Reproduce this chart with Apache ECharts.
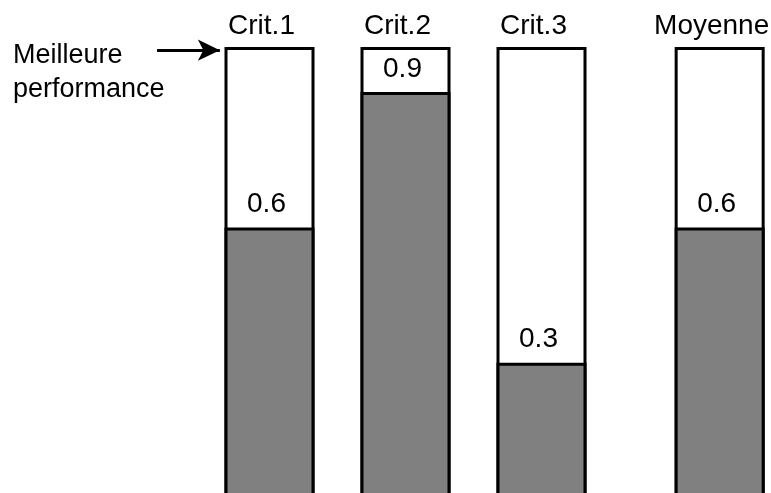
<!DOCTYPE html>
<html>
<head>
<meta charset="utf-8">
<script src="https://cdn.jsdelivr.net/npm/echarts@6/dist/echarts.min.js"></script>
<style>html,body{margin:0;padding:0;background:#fff;overflow:hidden}#c{width:820px;height:505px}</style>
</head>
<body>
<div id="c"></div>
<script>
const categories = ['Crit.1', 'Crit.2', 'Crit.3', 'Moyenne'];
const positions = [1, 2, 3, 4.31];
const scores = [0.6, 0.9, 0.3, 0.6];
const bestScore = 1;
const annotationText = 'Meilleure\nperformance';

const FONT = '"Liberation Sans", Arial, sans-serif';
const chart = echarts.init(document.getElementById('c'));
chart.setOption({
  animation: false,
  backgroundColor: '#fff',
  grid: { left: 133.5, top: 47, width: 680, height: 451 },
  xAxis: { type: 'value', min: 0, max: 5, show: false },
  yAxis: { type: 'value', min: 0, max: bestScore, show: false },
  graphic: [{
    type: 'text', left: 13, top: 39,
    style: { text: annotationText, font: '27px ' + FONT, fill: '#000', lineHeight: 34 }
  }],
  series: [
    {
      type: 'bar',
      barWidth: 90,
      barGap: '-100%',
      data: positions.map((x) => [x, bestScore]),
      itemStyle: { color: '#fff', borderColor: '#000', borderWidth: 3 },
      label: {
        show: true, position: 'top', distance: 7, offset: [-8, 0],
        formatter: (p) => categories[p.dataIndex],
        fontSize: 28, fontFamily: FONT, color: '#000'
      },
      markLine: {
        silent: true,
        symbol: ['none', 'arrow'],
        symbolSize: [16, 22],
        lineStyle: { color: '#000', width: 3, type: 'solid' },
        label: { show: false },
        data: [[{ coord: [0.173, 0.993] }, { coord: [0.635, 0.993] }]]
      },
      z: 2
    },
    {
      type: 'bar',
      barWidth: 90,
      barGap: '-100%',
      data: positions.map((x, i) => [x, scores[i]]),
      itemStyle: { color: '#808080', borderColor: '#000', borderWidth: 3 },
      label: {
        show: true, position: 'top', distance: 9, offset: [-3, 0],
        formatter: (p) => p.value[1].toFixed(1),
        fontSize: 28, fontFamily: FONT, color: '#000'
      },
      z: 3
    }
  ]
});
</script>
</body>
</html>
